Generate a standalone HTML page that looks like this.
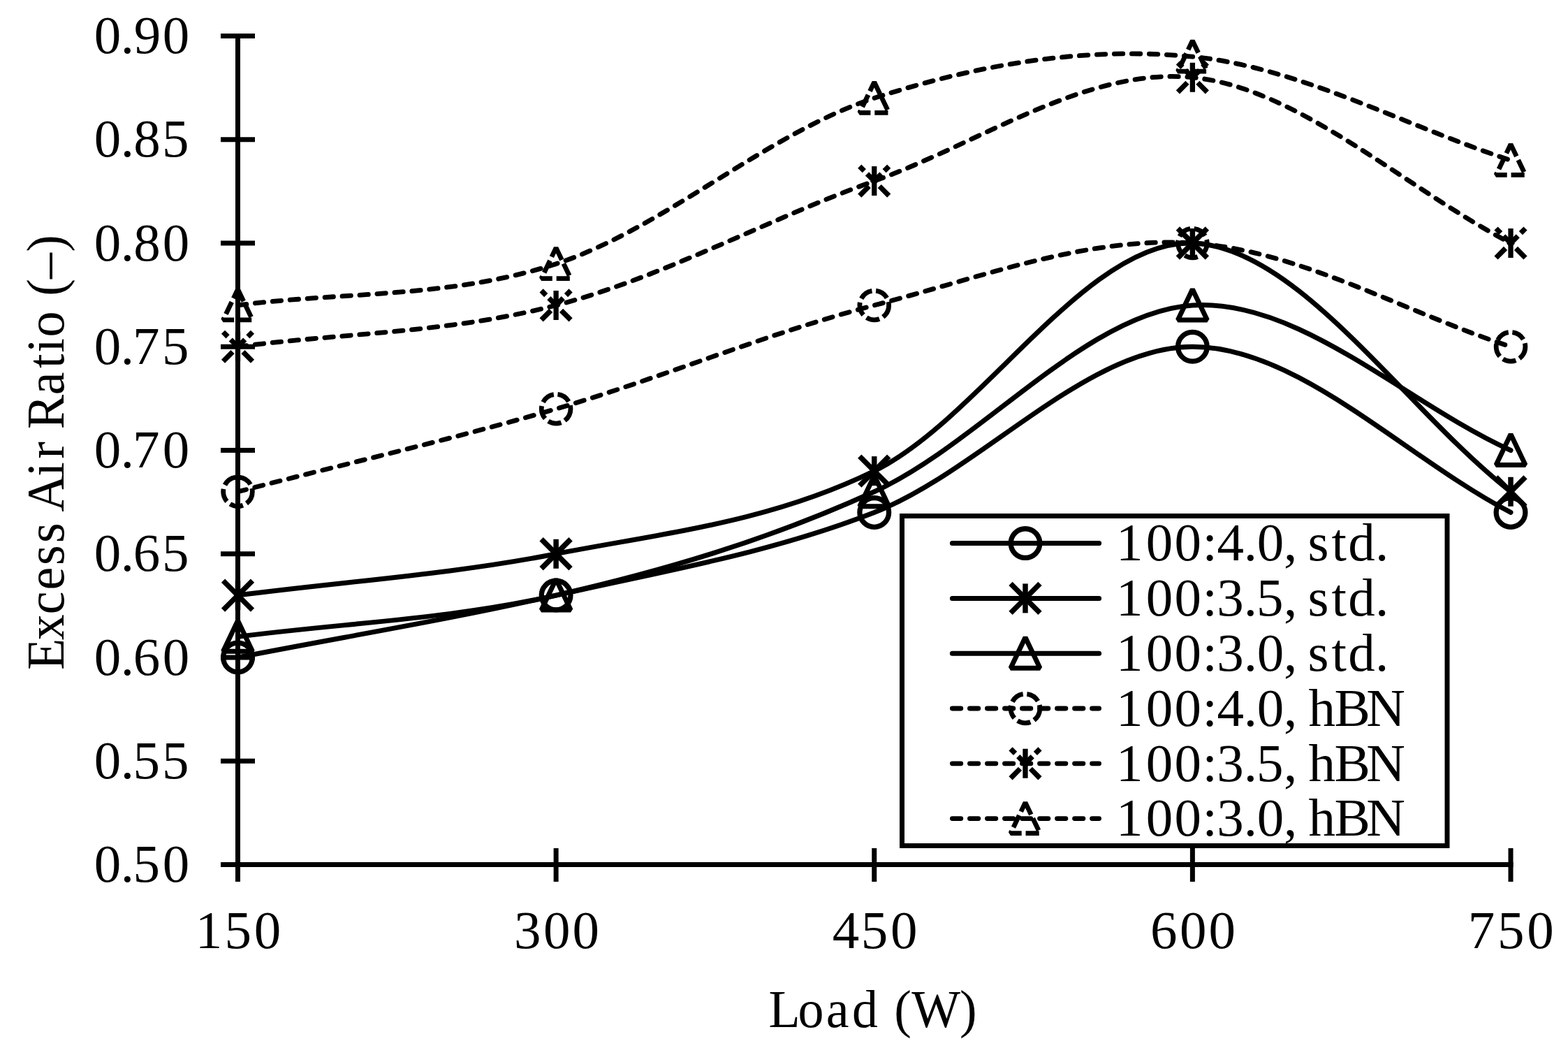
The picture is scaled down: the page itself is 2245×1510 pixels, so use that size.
<!DOCTYPE html><html><head><meta charset="utf-8"><title>Excess Air Ratio vs Load</title>
<style>html,body{margin:0;padding:0;background:#fff;}body{width:2245px;height:1510px;}svg{display:block;}</style></head><body>
<svg xmlns="http://www.w3.org/2000/svg" width="2245" height="1510" viewBox="0 0 2245 1510">
<rect width="2245" height="1510" fill="#fff"/>
<g stroke="#000" stroke-width="7.0" fill="none">
<line x1="340.50" y1="48" x2="340.50" y2="1262"/>
<line x1="337" y1="1237.50" x2="2166.50" y2="1237.50"/>
<line x1="316" y1="1237.50" x2="365" y2="1237.50"/>
<line x1="316" y1="1089.25" x2="365" y2="1089.25"/>
<line x1="316" y1="941.00" x2="365" y2="941.00"/>
<line x1="316" y1="792.75" x2="365" y2="792.75"/>
<line x1="316" y1="644.50" x2="365" y2="644.50"/>
<line x1="316" y1="496.25" x2="365" y2="496.25"/>
<line x1="316" y1="348.00" x2="365" y2="348.00"/>
<line x1="316" y1="199.75" x2="365" y2="199.75"/>
<line x1="316" y1="51.50" x2="365" y2="51.50"/>
<line x1="340.50" y1="1214" x2="340.50" y2="1262"/>
<line x1="796.12" y1="1214" x2="796.12" y2="1262"/>
<line x1="1251.75" y1="1214" x2="1251.75" y2="1262"/>
<line x1="1707.38" y1="1214" x2="1707.38" y2="1262"/>
<line x1="2163.00" y1="1214" x2="2163.00" y2="1262"/>
</g>
<path d="M340.50 941.00 C492.38 911.35 644.25 886.64 796.12 852.05 C948.00 817.46 1099.88 792.75 1251.75 733.45 C1403.62 674.15 1555.50 496.25 1707.38 496.25 C1859.25 496.25 2011.12 654.38 2163.00 733.45" fill="none" stroke="#000" stroke-width="7.0" stroke-linecap="round"/>
<path d="M340.50 852.05 C492.38 832.28 644.25 822.40 796.12 792.75 C948.00 763.10 1099.88 748.28 1251.75 674.15 C1403.62 600.03 1555.50 343.06 1707.38 348.00 C1859.25 352.94 2011.12 585.20 2163.00 703.80" fill="none" stroke="#000" stroke-width="7.0" stroke-linecap="round"/>
<path d="M340.50 911.35 C492.38 891.58 644.25 886.64 796.12 852.05 C948.00 817.46 1099.88 772.98 1251.75 703.80 C1403.62 634.62 1555.50 446.83 1707.38 436.95 C1859.25 427.07 2011.12 575.32 2163.00 644.50" fill="none" stroke="#000" stroke-width="7.0" stroke-linecap="round"/>
<path d="M340.50 703.80 C492.38 664.27 644.25 629.68 796.12 585.20 C948.00 540.73 1099.88 476.48 1251.75 436.95 C1403.62 397.42 1555.50 338.12 1707.38 348.00 C1859.25 357.88 2011.12 446.83 2163.00 496.25" fill="none" stroke="#000" stroke-width="6.8" stroke-linecap="round" stroke-dasharray="12.4 12.62"/>
<path d="M340.50 496.25 C492.38 476.48 644.25 476.48 796.12 436.95 C948.00 397.42 1099.88 313.41 1251.75 259.05 C1403.62 204.69 1555.50 95.97 1707.38 110.80 C1859.25 125.62 2011.12 268.93 2163.00 348.00" fill="none" stroke="#000" stroke-width="6.8" stroke-linecap="round" stroke-dasharray="12.4 12.62"/>
<path d="M340.50 436.95 C492.38 417.18 644.25 427.07 796.12 377.65 C948.00 328.23 1099.88 189.87 1251.75 140.45 C1403.62 91.03 1555.50 66.32 1707.38 81.15 C1859.25 95.97 2011.12 179.98 2163.00 229.40" fill="none" stroke="#000" stroke-width="6.8" stroke-linecap="round" stroke-dasharray="12.4 12.62"/>
<circle cx="340.50" cy="941.00" r="20.85" fill="none" stroke="#000" stroke-width="7.3"/>
<circle cx="796.12" cy="852.05" r="20.85" fill="none" stroke="#000" stroke-width="7.3"/>
<circle cx="1251.75" cy="733.45" r="20.85" fill="none" stroke="#000" stroke-width="7.3"/>
<circle cx="1707.38" cy="496.25" r="20.85" fill="none" stroke="#000" stroke-width="7.3"/>
<circle cx="2163.00" cy="733.45" r="20.85" fill="none" stroke="#000" stroke-width="7.3"/>
<g fill="none" stroke="#000" stroke-width="7.5"><line x1="319.50" y1="873.05" x2="361.50" y2="831.05"/><line x1="361.50" y1="873.05" x2="319.50" y2="831.05"/><line x1="340.50" y1="873.05" x2="340.50" y2="831.05"/></g>
<g fill="none" stroke="#000" stroke-width="7.5"><line x1="775.12" y1="813.75" x2="817.12" y2="771.75"/><line x1="817.12" y1="813.75" x2="775.12" y2="771.75"/><line x1="796.12" y1="813.75" x2="796.12" y2="771.75"/></g>
<g fill="none" stroke="#000" stroke-width="7.5"><line x1="1230.75" y1="695.15" x2="1272.75" y2="653.15"/><line x1="1272.75" y1="695.15" x2="1230.75" y2="653.15"/><line x1="1251.75" y1="695.15" x2="1251.75" y2="653.15"/></g>
<g fill="none" stroke="#000" stroke-width="7.5"><line x1="1686.38" y1="369.00" x2="1728.38" y2="327.00"/><line x1="1728.38" y1="369.00" x2="1686.38" y2="327.00"/><line x1="1707.38" y1="369.00" x2="1707.38" y2="327.00"/></g>
<g fill="none" stroke="#000" stroke-width="7.5"><line x1="2142.00" y1="724.80" x2="2184.00" y2="682.80"/><line x1="2184.00" y1="724.80" x2="2142.00" y2="682.80"/><line x1="2163.00" y1="724.80" x2="2163.00" y2="682.80"/></g>
<path d="M340.50 888.35 L361.50 932.35 L319.50 932.35 Z" fill="none" stroke="#000" stroke-width="7.0" stroke-linejoin="bevel"/>
<path d="M796.12 829.05 L817.12 873.05 L775.12 873.05 Z" fill="none" stroke="#000" stroke-width="7.0" stroke-linejoin="bevel"/>
<path d="M1251.75 680.80 L1272.75 724.80 L1230.75 724.80 Z" fill="none" stroke="#000" stroke-width="7.0" stroke-linejoin="bevel"/>
<path d="M1707.38 413.95 L1728.38 457.95 L1686.38 457.95 Z" fill="none" stroke="#000" stroke-width="7.0" stroke-linejoin="bevel"/>
<path d="M2163.00 621.50 L2184.00 665.50 L2142.00 665.50 Z" fill="none" stroke="#000" stroke-width="7.0" stroke-linejoin="bevel"/>
<circle cx="340.50" cy="703.80" r="20.85" fill="none" stroke="#000" stroke-width="6.8" stroke-dasharray="19.17 5.85"/>
<circle cx="796.12" cy="585.20" r="20.85" fill="none" stroke="#000" stroke-width="6.8" stroke-dasharray="19.17 5.85"/>
<circle cx="1251.75" cy="436.95" r="20.85" fill="none" stroke="#000" stroke-width="6.8" stroke-dasharray="19.17 5.85"/>
<circle cx="1707.38" cy="348.00" r="20.85" fill="none" stroke="#000" stroke-width="6.8" stroke-dasharray="19.17 5.85"/>
<circle cx="2163.00" cy="496.25" r="20.85" fill="none" stroke="#000" stroke-width="6.8" stroke-dasharray="19.17 5.85"/>
<g fill="none" stroke="#000" stroke-width="7.3" stroke-dasharray="19.17 5.85"><line x1="319.50" y1="517.25" x2="361.50" y2="475.25"/><line x1="361.50" y1="517.25" x2="319.50" y2="475.25"/><line x1="340.50" y1="517.25" x2="340.50" y2="475.25"/></g>
<g fill="none" stroke="#000" stroke-width="7.3" stroke-dasharray="19.17 5.85"><line x1="775.12" y1="457.95" x2="817.12" y2="415.95"/><line x1="817.12" y1="457.95" x2="775.12" y2="415.95"/><line x1="796.12" y1="457.95" x2="796.12" y2="415.95"/></g>
<g fill="none" stroke="#000" stroke-width="7.3" stroke-dasharray="19.17 5.85"><line x1="1230.75" y1="280.05" x2="1272.75" y2="238.05"/><line x1="1272.75" y1="280.05" x2="1230.75" y2="238.05"/><line x1="1251.75" y1="280.05" x2="1251.75" y2="238.05"/></g>
<g fill="none" stroke="#000" stroke-width="7.3" stroke-dasharray="19.17 5.85"><line x1="1686.38" y1="131.80" x2="1728.38" y2="89.80"/><line x1="1728.38" y1="131.80" x2="1686.38" y2="89.80"/><line x1="1707.38" y1="131.80" x2="1707.38" y2="89.80"/></g>
<g fill="none" stroke="#000" stroke-width="7.3" stroke-dasharray="19.17 5.85"><line x1="2142.00" y1="369.00" x2="2184.00" y2="327.00"/><line x1="2184.00" y1="369.00" x2="2142.00" y2="327.00"/><line x1="2163.00" y1="369.00" x2="2163.00" y2="327.00"/></g>
<path d="M340.50 413.95 L361.50 457.95 L319.50 457.95 Z" fill="none" stroke="#000" stroke-width="6.8" stroke-linejoin="bevel" stroke-dasharray="19.17 5.85"/>
<path d="M796.12 354.65 L817.12 398.65 L775.12 398.65 Z" fill="none" stroke="#000" stroke-width="6.8" stroke-linejoin="bevel" stroke-dasharray="19.17 5.85"/>
<path d="M1251.75 117.45 L1272.75 161.45 L1230.75 161.45 Z" fill="none" stroke="#000" stroke-width="6.8" stroke-linejoin="bevel" stroke-dasharray="19.17 5.85"/>
<path d="M1707.38 58.15 L1728.38 102.15 L1686.38 102.15 Z" fill="none" stroke="#000" stroke-width="6.8" stroke-linejoin="bevel" stroke-dasharray="19.17 5.85"/>
<path d="M2163.00 206.40 L2184.00 250.40 L2142.00 250.40 Z" fill="none" stroke="#000" stroke-width="6.8" stroke-linejoin="bevel" stroke-dasharray="19.17 5.85"/>
<g font-family="'Liberation Serif', serif" font-size="77" fill="#000">
<text x="134.70 172.78 190.62 232.70" y="0" transform="matrix(1.000 0 0 1 0 1262.20)">0.50</text>
<text x="134.70 172.78 190.62 231.97" y="0" transform="matrix(1.000 0 0 1 0 1113.95)">0.55</text>
<text x="134.70 172.78 190.84 232.70" y="0" transform="matrix(1.000 0 0 1 0 965.70)">0.60</text>
<text x="134.70 172.78 190.84 231.97" y="0" transform="matrix(1.000 0 0 1 0 817.45)">0.65</text>
<text x="134.70 172.78 189.92 232.70" y="0" transform="matrix(1.000 0 0 1 0 669.20)">0.70</text>
<text x="134.70 172.78 189.92 231.97" y="0" transform="matrix(1.000 0 0 1 0 520.95)">0.75</text>
<text x="134.70 172.78 191.35 232.70" y="0" transform="matrix(1.000 0 0 1 0 372.70)">0.80</text>
<text x="134.70 172.78 191.35 231.97" y="0" transform="matrix(1.000 0 0 1 0 224.45)">0.85</text>
<text x="134.70 172.78 191.69 232.70" y="0" transform="matrix(1.000 0 0 1 0 76.20)">0.90</text>
<text x="279.68 321.52 363.75" y="0" transform="matrix(1.000 0 0 1 0 1357.20)">150</text>
<text x="736.04 777.88 819.38" y="0" transform="matrix(1.000 0 0 1 0 1357.20)">300</text>
<text x="1191.85 1232.77 1275.00" y="0" transform="matrix(1.000 0 0 1 0 1357.20)">450</text>
<text x="1647.12 1689.12 1730.62" y="0" transform="matrix(1.000 0 0 1 0 1357.20)">600</text>
<text x="2101.82 2144.02 2186.25" y="0" transform="matrix(1.000 0 0 1 0 1357.20)">750</text>
<text x="1146.44 1190.12 1232.08 1270.97 1328.72 1333.60 1359.53 1431.38" y="0" transform="matrix(0.960 0 0 1 0 1469.90)">Load (W)</text>
<text x="-999.06 -954.54 -915.81 -879.65 -842.77 -809.44 -760.23 -763.31 -710.36 -684.09 -639.19 -639.75 -588.75 -549.08 -525.77 -502.58 -444.83 -441.40 -415.60 -375.91" y="0" transform="matrix(0 -0.960 1 0 90.90 0)">Excess Air Ratio (–)</text>
</g>
<rect x="1291.5" y="738.5" width="780.5" height="472" fill="#fff" stroke="#000" stroke-width="7"/>
<g font-family="'Liberation Serif', serif" font-size="77" fill="#000">
<text x="1598.08 1640.75 1681.55 1721.38 1742.40 1780.67 1799.75 1837.93 1876.43 1872.53 1906.45 1930.33 1968.88" y="0" transform="matrix(1.000 0 0 1 0 802.30)">100:4.0, std.</text>
<text x="1598.08 1640.75 1681.55 1721.38 1742.21 1780.67 1799.02 1837.93 1876.43 1872.53 1906.45 1930.33 1968.88" y="0" transform="matrix(1.000 0 0 1 0 881.10)">100:3.5, std.</text>
<text x="1598.08 1640.75 1681.55 1721.38 1742.21 1780.67 1799.75 1837.93 1876.43 1872.53 1906.45 1930.33 1968.88" y="0" transform="matrix(1.000 0 0 1 0 959.90)">100:3.0, std.</text>
<text x="1598.08 1640.75 1681.55 1721.38 1742.40 1780.67 1799.75 1837.93 1876.43 1873.38 1910.59 1956.37" y="0" transform="matrix(1.000 0 0 1 0 1038.70)">100:4.0, hBN</text>
<text x="1598.08 1640.75 1681.55 1721.38 1742.21 1780.67 1799.02 1837.93 1876.43 1873.38 1910.59 1956.37" y="0" transform="matrix(1.000 0 0 1 0 1117.50)">100:3.5, hBN</text>
<text x="1598.08 1640.75 1681.55 1721.38 1742.21 1780.67 1799.75 1837.93 1876.43 1873.38 1910.59 1956.37" y="0" transform="matrix(1.000 0 0 1 0 1196.30)">100:3.0, hBN</text>
</g>
<line x1="1363.4" y1="777.60" x2="1573.6" y2="777.60" stroke="#000" stroke-width="7.0" stroke-linecap="round"/>
<circle cx="1468.00" cy="777.60" r="20.85" fill="none" stroke="#000" stroke-width="7.3"/>
<line x1="1363.4" y1="856.40" x2="1573.6" y2="856.40" stroke="#000" stroke-width="7.0" stroke-linecap="round"/>
<g fill="none" stroke="#000" stroke-width="7.5"><line x1="1447.00" y1="877.40" x2="1489.00" y2="835.40"/><line x1="1489.00" y1="877.40" x2="1447.00" y2="835.40"/><line x1="1468.00" y1="877.40" x2="1468.00" y2="835.40"/></g>
<line x1="1363.4" y1="935.20" x2="1573.6" y2="935.20" stroke="#000" stroke-width="7.0" stroke-linecap="round"/>
<path d="M1468.00 912.20 L1489.00 956.20 L1447.00 956.20 Z" fill="none" stroke="#000" stroke-width="7.0" stroke-linejoin="bevel"/>
<line x1="1363.4" y1="1014.00" x2="1573.6" y2="1014.00" stroke="#000" stroke-width="6.8" stroke-linecap="round" stroke-dasharray="12.4 12.62"/>
<circle cx="1468.00" cy="1014.00" r="20.85" fill="none" stroke="#000" stroke-width="6.8" stroke-dasharray="19.17 5.85"/>
<line x1="1363.4" y1="1092.80" x2="1573.6" y2="1092.80" stroke="#000" stroke-width="6.8" stroke-linecap="round" stroke-dasharray="12.4 12.62"/>
<g fill="none" stroke="#000" stroke-width="7.3" stroke-dasharray="19.17 5.85"><line x1="1447.00" y1="1113.80" x2="1489.00" y2="1071.80"/><line x1="1489.00" y1="1113.80" x2="1447.00" y2="1071.80"/><line x1="1468.00" y1="1113.80" x2="1468.00" y2="1071.80"/></g>
<line x1="1363.4" y1="1171.60" x2="1573.6" y2="1171.60" stroke="#000" stroke-width="6.8" stroke-linecap="round" stroke-dasharray="12.4 12.62"/>
<path d="M1468.00 1148.60 L1489.00 1192.60 L1447.00 1192.60 Z" fill="none" stroke="#000" stroke-width="6.8" stroke-linejoin="bevel" stroke-dasharray="19.17 5.85"/>
</svg></body></html>
